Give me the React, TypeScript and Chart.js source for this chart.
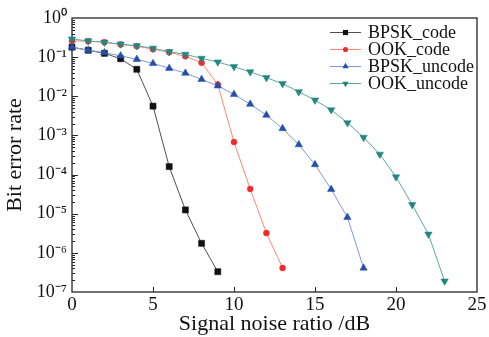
import React, { useEffect, useRef } from "react";
import { Chart, registerables } from "chart.js";

Chart.register(...registerables);

const seriesNames = ["BPSK_code", "OOK_code", "BPSK_uncode", "OOK_uncode"];

const bpskCodeSnr = [0, 1, 2, 3, 4, 5, 6, 7, 8, 9];
const bpskCodeBer = [0.18, 0.15, 0.125, 0.091, 0.049, 0.0056, 1.6e-4, 1.25e-5, 1.75e-6, 3.3e-7];

const ookCodeSnr = [0, 1, 2, 3, 4, 5, 6, 7, 8, 9, 10, 11, 12, 13];
const ookCodeBer = [0.26, 0.255, 0.24, 0.21, 0.19, 0.16, 0.133, 0.105, 0.072, 0.02, 6.8e-4, 4.3e-5, 3.2e-6, 4.1e-7];

const bpskUncodeSnr = [0, 1, 2, 3, 4, 5, 6, 7, 8, 9, 10, 11, 12, 13, 14, 15, 16, 17, 18];
const bpskUncodeBer = [0.18, 0.15, 0.13, 0.108, 0.088, 0.069, 0.052, 0.039, 0.027, 0.0185, 0.0112, 0.0063, 0.0033, 0.0015, 5.8e-4, 1.8e-4, 4.2e-5, 8.1e-6, 4.1e-7];

const ookUncodeSnr = [0, 1, 2, 3, 4, 5, 6, 7, 8, 9, 10, 11, 12, 13, 14, 15, 16, 17, 18, 19, 20, 21, 22, 23];
const ookUncodeBer = [0.29, 0.26, 0.24, 0.216, 0.195, 0.168, 0.138, 0.118, 0.093, 0.075, 0.057, 0.042, 0.03, 0.021, 0.013, 0.008, 0.0045, 0.0021, 8.9e-4, 3.3e-4, 8.7e-5, 1.7e-5, 3.0e-6, 1.9e-7];

const xTicks = [0, 5, 10, 15, 20, 25];
const yExponents = [-7, -6, -5, -4, -3, -2, -1, 0];

const xTitle = "Signal noise ratio /dB";
const yTitle = "Bit error rate";

const markerColors = ["#111111", "#f42a2a", "#2550aa", "#248680"];
const lineColors = ["#505050", "#f88878", "#8098e0", "#5aa8a0"];
const markerStyles = ["rect", "circle", "triangle", "triangle"];
const markerRotations = [0, 0, 0, 180];
const markerRadii = [4.3, 3, 4.3, 4.3];

const FONT = "'Liberation Serif', 'Times New Roman', serif";

const SUP: Record<string, string> = {
  "-": "\u207B", "0": "\u2070", "1": "\u00B9", "2": "\u00B2", "3": "\u00B3",
  "4": "\u2074", "5": "\u2075", "6": "\u2076", "7": "\u2077", "8": "\u2078", "9": "\u2079",
};
const sup = (s: string) => s.split("").map((c) => SUP[c] || c).join("");

function pts(xs: number[], ys: number[]) {
  return xs.map((x, i) => ({ x, y: ys[i] }));
}

function drawMarker(ctx: CanvasRenderingContext2D, style: string, rot: number, r: number, x: number, y: number) {
  ctx.beginPath();
  if (style === "rect") {
    const s = r * Math.SQRT1_2;
    ctx.rect(x - s, y - s, 2 * s, 2 * s);
  } else if (style === "circle") {
    ctx.arc(x, y, r, 0, Math.PI * 2);
  } else {
    const base = rot === 180 ? Math.PI / 2 : -Math.PI / 2;
    for (let k = 0; k < 3; k++) {
      const a = base + (k * 2 * Math.PI) / 3;
      const px = x + r * Math.cos(a);
      const py = y + r * Math.sin(a);
      if (k === 0) ctx.moveTo(px, py);
      else ctx.lineTo(px, py);
    }
    ctx.closePath();
  }
  ctx.fill();
}

const framePlugin = {
  id: "frameTicks",
  beforeDatasetsDraw(chart: any) {
    const { ctx, chartArea: a, scales } = chart;
    ctx.save();
    ctx.strokeStyle = "#262626";
    ctx.lineWidth = 1.3;
    ctx.strokeRect(a.left, a.top, a.right - a.left, a.bottom - a.top);
    ctx.lineWidth = 1;
    ctx.beginPath();
    xTicks.forEach((v) => {
      const px = Math.round(scales.x.getPixelForValue(v)) + 0.5;
      if (px <= a.left + 1 || px >= a.right - 1) return;
      ctx.moveTo(px, a.bottom);
      ctx.lineTo(px, a.bottom - 5);
    });
    yExponents.forEach((e) => {
      if (e === 0) return;
      for (let m = 1; m <= 9; m++) {
        const py = Math.round(scales.y.getPixelForValue(m * Math.pow(10, e))) + 0.5;
        const len = m === 1 ? 6 : 3;
        if (m === 1 && e === -7) continue;
        ctx.moveTo(a.left, py);
        ctx.lineTo(a.left + len, py);
      }
    });
    ctx.stroke();
    ctx.restore();
  },
};

const legendPlugin = {
  id: "insideLegend",
  afterDraw(chart: any) {
    const { ctx, chartArea: a } = chart;
    ctx.save();
    const x0 = a.right - 147;
    const lineLen = 31;
    chart.data.datasets.forEach((ds: any, i: number) => {
      const y = a.top + 14 + i * 17;
      ctx.strokeStyle = lineColors[i];
      ctx.lineWidth = 1;
      ctx.beginPath();
      ctx.moveTo(x0, y + 0.5);
      ctx.lineTo(x0 + lineLen, y + 0.5);
      ctx.stroke();
      ctx.fillStyle = markerColors[i];
      drawMarker(ctx, markerStyles[i], markerRotations[i], markerRadii[i] * 0.85, x0 + lineLen / 2, y + 0.5);
      ctx.fillStyle = "#111";
      ctx.font = `18px ${FONT}`;
      ctx.textBaseline = "middle";
      ctx.textAlign = "left";
      ctx.fillText(ds.label, x0 + 38, y + 1);
    });
    ctx.restore();
  },
};

export default function App() {
  const ref = useRef<HTMLCanvasElement | null>(null);

  useEffect(() => {
    document.body.style.margin = "0";
    const canvas = ref.current;
    if (!canvas) return;
    const seriesData = [
      pts(bpskCodeSnr, bpskCodeBer),
      pts(ookCodeSnr, ookCodeBer),
      pts(bpskUncodeSnr, bpskUncodeBer),
      pts(ookUncodeSnr, ookUncodeBer),
    ];
    const chart = new Chart(canvas, {
      type: "line",
      data: {
        datasets: seriesData.map((d, i) => ({
          label: seriesNames[i],
          data: d,
          borderColor: lineColors[i],
          backgroundColor: markerColors[i],
          borderWidth: 1,
          pointStyle: markerStyles[i] as any,
          rotation: markerRotations[i],
          pointRadius: markerRadii[i],
          pointBackgroundColor: markerColors[i],
          pointBorderColor: markerColors[i],
          pointBorderWidth: 0.5,
          tension: 0,
          clip: false as any,
          order: 4 - i,
        })),
      },
      options: {
        animation: false,
        responsive: false,
        devicePixelRatio: 1,
        font: { family: FONT },
        layout: { padding: { left: 0, top: 18, right: 12, bottom: 0 } },
        plugins: {
          legend: { display: false },
          tooltip: { enabled: false },
        },
        scales: {
          x: {
            type: "linear",
            min: 0,
            max: 25,
            grid: { display: false, drawTicks: false },
            border: { display: false },
            ticks: {
              stepSize: 5,
              color: "#111",
              font: { family: FONT, size: 19 },
              padding: 2,
              maxRotation: 0,
            },
            afterBuildTicks: (s: any) => {
              s.ticks = xTicks.map((v) => ({ value: v }));
            },
            afterFit: (s: any) => {
              s.height = 45;
            },
            title: {
              display: true,
              text: xTitle,
              color: "#111",
              font: { family: FONT, size: 22 },
              padding: { top: 0, bottom: 0 },
            },
          },
          y: {
            type: "logarithmic",
            min: 1e-7,
            max: 1,
            grid: { display: false, drawTicks: false },
            border: { display: false },
            ticks: {
              color: "#111",
              font: { family: FONT, size: 18 },
              padding: 5,
              callback: (v: any) => "10" + sup(String(Math.round(Math.log10(Number(v))))),
            },
            afterBuildTicks: (s: any) => {
              s.ticks = yExponents.map((e) => ({ value: Math.pow(10, e) }));
            },
            afterFit: (s: any) => {
              s.width = 72;
            },
            title: {
              display: true,
              text: yTitle,
              color: "#111",
              font: { family: FONT, size: 22 },
              padding: { top: 2, bottom: 0 },
            },
          },
        },
      },
      plugins: [framePlugin, legendPlugin],
    });
    return () => chart.destroy();
  }, []);

  return (
    <div style={{ width: 489, height: 337, background: "#fff" }}>
      <canvas ref={ref} width={489} height={337} />
    </div>
  );
}
